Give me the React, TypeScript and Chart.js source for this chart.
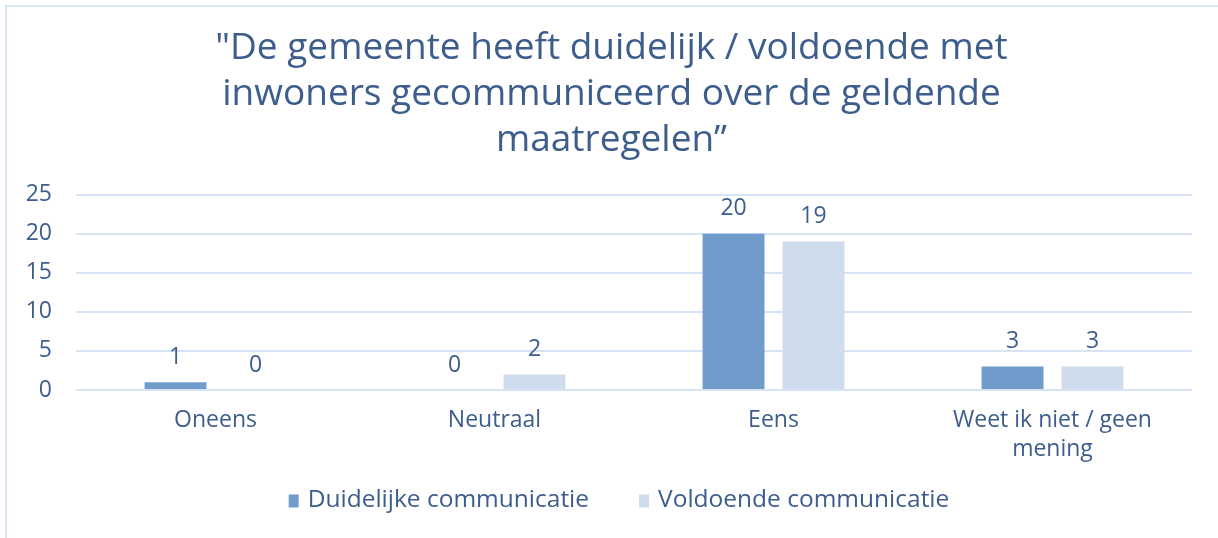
import React, { useEffect, useRef } from "react";
import { Chart, registerables } from "chart.js";

Chart.register(...registerables);

const categories: (string | string[])[] = ["Oneens", "Neutraal", "Eens", ["Weet ik niet / geen", "mening"]];
const duidelijk = [1, 0, 20, 3];
const voldoende = [0, 2, 19, 3];
const titleLines = [
  "\"De gemeente heeft duidelijk / voldoende met",
  "inwoners gecommuniceerd over de geldende",
  "maatregelen\u201D",
];
const seriesNames = ["Duidelijke communicatie", "Voldoende communicatie"];
const seriesColors = ["#709bcb", "#cfdcee"];

const TEXT = "#3d5d8c";
const FONT = "'Open Sans', sans-serif";

const valueLabels = {
  id: "valueLabels",
  afterDatasetsDraw(chart: any) {
    const ctx = chart.ctx;
    ctx.save();
    ctx.font = `23px ${FONT}`;
    ctx.fillStyle = TEXT;
    ctx.textAlign = "center";
    ctx.textBaseline = "middle";
    chart.data.datasets.forEach((ds: any, i: number) => {
      const meta = chart.getDatasetMeta(i);
      meta.data.forEach((bar: any, j: number) => {
        ctx.fillText(String(ds.data[j]), bar.x, bar.y - 25);
      });
    });
    ctx.restore();
  },
};

const bottomLegend = {
  id: "bottomLegend",
  afterDraw(chart: any) {
    const ctx = chart.ctx;
    ctx.save();
    ctx.font = `24.5px ${FONT}`;
    ctx.textBaseline = "middle";
    ctx.textAlign = "left";
    const boxW = 10, boxH = 13, boxGap = 9, itemGap = 50;
    const items = chart.data.datasets.map((ds: any) => ({
      text: ds.label,
      color: ds.backgroundColor,
      w: ctx.measureText(ds.label).width,
    }));
    const total = items.reduce((a: number, it: any) => a + boxW + boxGap + it.w, 0) + itemGap * (items.length - 1);
    let x = (chart.width + 20) / 2 - total / 2;
    const cy = 500;
    items.forEach((it: any) => {
      ctx.fillStyle = it.color;
      ctx.fillRect(x, cy - boxH / 2 + 1, boxW, boxH);
      x += boxW + boxGap;
      ctx.fillStyle = TEXT;
      ctx.fillText(it.text, x, cy);
      x += it.w + itemGap;
    });
    ctx.restore();
  },
};

const frame = {
  id: "frame",
  beforeDraw(chart: any) {
    const ctx = chart.ctx;
    ctx.save();
    ctx.fillStyle = "#ffffff";
    ctx.fillRect(0, 0, chart.width, chart.height);
    ctx.fillStyle = "#dae6f7";
    ctx.fillRect(5, 5, chart.width - 5, 2);
    ctx.fillRect(5, 5, 2, chart.height - 5);
    ctx.restore();
  },
};

export default function App() {
  const ref = useRef<HTMLCanvasElement>(null);
  useEffect(() => {
    if (!ref.current) return;
    const chart = new Chart(ref.current, {
      type: "bar",
      data: {
        labels: categories,
        datasets: [
          { label: seriesNames[0], data: duidelijk, backgroundColor: seriesColors[0], categoryPercentage: 0.573, barPercentage: 0.775 },
          { label: seriesNames[1], data: voldoende, backgroundColor: seriesColors[1], categoryPercentage: 0.573, barPercentage: 0.775 },
        ],
      },
      options: {
        animation: false,
        responsive: false,
        layout: { padding: { left: 5, right: 0, top: 0, bottom: 61 } },
        plugins: {
          title: {
            display: true,
            text: titleLines,
            color: TEXT,
            font: { family: FONT, size: 37, weight: "normal", lineHeight: 1.25 },
            padding: { top: 25, bottom: 31 },
          },
          legend: { display: false },
          tooltip: { enabled: false },
        },
        scales: {
          x: {
            grid: { display: false },
            border: { display: false },
            ticks: { color: TEXT, font: { family: FONT, size: 23, lineHeight: 1.25 }, padding: 8, maxRotation: 0 },
            afterFit: (s: any) => { s.height = 87; },
          },
          y: {
            min: 0,
            max: 25,
            ticks: { stepSize: 5, color: TEXT, font: { family: FONT, size: 23 }, padding: 24 },
            grid: { color: "#d6e3f5", lineWidth: 2, drawTicks: false },
            border: { display: false },
            afterFit: (s: any) => { s.width = 71; },
          },
          yRight: {
            position: "right",
            display: true,
            grid: { display: false },
            border: { display: false },
            ticks: { display: false },
            afterFit: (s: any) => { s.width = 26; },
          },
        },
      },
      plugins: [frame, valueLabels, bottomLegend],
    });
    return () => chart.destroy();
  }, []);
  return (
    <div style={{ position: "fixed", left: 0, top: 0, width: 1218, height: 538, background: "#fff" }}>
      <canvas ref={ref} width={1218} height={538} style={{ width: 1218, height: 538, display: "block" }} />
    </div>
  );
}
